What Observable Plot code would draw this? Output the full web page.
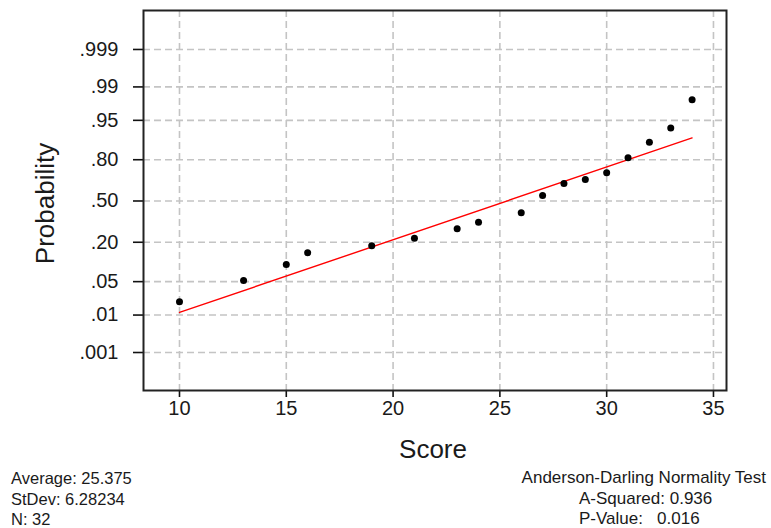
<!DOCTYPE html>
<html>
<head>
<meta charset="utf-8">
<script src="https://cdn.jsdelivr.net/npm/d3@7"></script>
<script src="https://cdn.jsdelivr.net/npm/@observablehq/plot@0.6"></script>
<style>
  body { margin: 0; background: #fff; font-family: "Liberation Sans", Arial, sans-serif; }
  #wrap { position: relative; width: 771px; }
  #stats { position: relative; width: 771px; height: 62px; color: #1a1a1a; font-size: 16.5px; }
  #stats span { position: absolute; white-space: pre; line-height: 20px; }
  #stats span.r { font-size: 17px; }
</style>
</head>
<body>
<div id="wrap"></div>
<script>
// ---- data ----
const scores = [10, 13, 15, 16, 19, 21, 23, 24, 26, 27, 28, 29, 30, 31, 32, 33, 34];
const probs  = [0.020, 0.0525, 0.098, 0.145, 0.180, 0.224, 0.285, 0.333, 0.405, 0.545, 0.640, 0.669, 0.717, 0.811, 0.885, 0.932, 0.9805];
const fitScores = [10, 34];
const fitProbs  = [0.0115, 0.901];
const yTickProbs  = [0.001, 0.01, 0.05, 0.2, 0.5, 0.8, 0.95, 0.99, 0.999];
const yTickLabels = [".001", ".01", ".05", ".20", ".50", ".80", ".95", ".99", ".999"];
const xTicks = [10, 15, 20, 25, 30, 35];
const statsLeft = ["Average: 25.375", "StDev: 6.28234", "N: 32"];
const statsRight = ["Anderson-Darling Normality Test", "A-Squared: 0.936", "P-Value:   0.016"];

// probit (inverse normal CDF, Acklam) used as the y scale transform
function probit(p) {
  const a = [-3.969683028665376e+01, 2.209460984245205e+02, -2.759285104469687e+02, 1.383577518672690e+02, -3.066479806614716e+01, 2.506628277459239e+00];
  const b = [-5.447609879822406e+01, 1.615858368580409e+02, -1.556989798598866e+02, 6.680131188771972e+01, -1.328068155288572e+01];
  const c = [-7.784894002430293e-03, -3.223964580411365e-01, -2.400758277161838e+00, -2.549671348283685e+00, 4.374664141464968e+00, 2.938163982698783e+00];
  const d = [7.784695709041462e-03, 3.224671290700398e-01, 2.445134137142996e+00, 3.754408661907416e+00];
  const plow = 0.02425;
  let q, r;
  if (p < plow) {
    q = Math.sqrt(-2 * Math.log(p));
    return (((((c[0]*q+c[1])*q+c[2])*q+c[3])*q+c[4])*q+c[5]) / ((((d[0]*q+d[1])*q+d[2])*q+d[3])*q+1);
  } else if (p <= 1 - plow) {
    q = p - 0.5; r = q*q;
    return (((((a[0]*r+a[1])*r+a[2])*r+a[3])*r+a[4])*r+a[5])*q / (((((b[0]*r+b[1])*r+b[2])*r+b[3])*r+b[4])*r+1);
  } else {
    q = Math.sqrt(-2 * Math.log(1 - p));
    return -(((((c[0]*q+c[1])*q+c[2])*q+c[3])*q+c[4])*q+c[5]) / ((((d[0]*q+d[1])*q+d[2])*q+d[3])*q+1);
  }
}

const points = scores.map((s, i) => ({x: s, y: probit(probs[i])}));
const fit = fitScores.map((s, i) => ({x: s, y: probit(fitProbs[i])}));
const yTicks = yTickProbs.map(probit);
const labelOf = new Map(yTicks.map((v, i) => [v, yTickLabels[i]]));

const gridStyle = {stroke: "#c4c4c4", strokeOpacity: 1, strokeWidth: 1.6, strokeDasharray: "7,4"};
const textColor = "#1a1a1a";

const chart = Plot.plot({
  width: 771,
  height: 466,
  marginTop: 10,
  marginBottom: 76,
  marginLeft: 143,
  marginRight: 45,
  style: {fontFamily: '"Liberation Sans", Arial, sans-serif', color: textColor, background: "#fff"},
  x: {domain: [8.315, 35.61]},
  y: {domain: [-3.865, 3.885]},
  marks: [
    Plot.gridX(xTicks, gridStyle),
    Plot.gridY(yTicks, gridStyle),
    Plot.axisX(xTicks, {tickSize: 7, tickPadding: 3, fontSize: 20, label: null, strokeWidth: 1.6, stroke: "#111", fill: textColor}),
    Plot.axisY(yTicks, {tickSize: 10, tickPadding: 15, fontSize: 20, label: null, strokeWidth: 1.6, stroke: "#111", fill: textColor,
                        tickFormat: v => labelOf.get(v)}),
    Plot.line(fit, {x: "x", y: "y", stroke: "#ff0000", strokeWidth: 1.4}),
    Plot.dot(points, {x: "x", y: "y", r: 3.5, fill: "#000", stroke: null}),
    Plot.frame({stroke: "#222", strokeWidth: 2}),
    Plot.text(["Probability"], {frameAnchor: "left", dx: -98, dy: 3, rotate: -90, fontSize: 26, fill: textColor,
                                textAnchor: "middle", lineAnchor: "middle"}),
    Plot.text(["Score"], {frameAnchor: "bottom", dx: -2, dy: 59, fontSize: 26, fill: textColor, textAnchor: "middle", lineAnchor: "middle"})
  ]
});

const wrap = document.getElementById("wrap");
wrap.appendChild(chart);

const stats = document.createElement("div");
stats.id = "stats";
const tops = [2, 23, 43];
statsLeft.forEach((t, i) => {
  const s = document.createElement("span");
  s.textContent = t;
  s.style.left = "11px";
  s.style.top = tops[i] + "px";
  stats.appendChild(s);
});
statsRight.forEach((t, i) => {
  const s = document.createElement("span");
  s.className = "r";
  s.textContent = t;
  s.style.top = tops[i] + "px";
  if (i === 0) { s.style.right = "5px"; } else { s.style.left = "579px"; }
  stats.appendChild(s);
});
wrap.appendChild(stats);
</script>
</body>
</html>
